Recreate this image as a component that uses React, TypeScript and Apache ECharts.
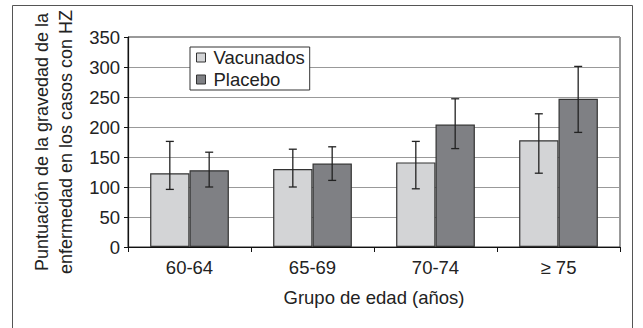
import React, { useEffect, useRef } from "react";
import * as echarts from "echarts";

const categories = ["60-64", "65-69", "70-74", "≥ 75"];
const vacunados = [123, 130, 141, 178];
const vacunadosLow = [96, 100, 97, 123];
const vacunadosHigh = [176, 163, 176, 222];
const placebo = [128, 139, 204, 247];
const placeboLow = [100, 111, 164, 191];
const placeboHigh = [158, 167, 247, 301];
const yTicks = [0, 50, 100, 150, 200, 250, 300, 350];

const FONT = "Liberation Sans, Arial, sans-serif";
const CAT_GAP = 0.36;

function errorSeries(name: string, low: number[], high: number[], side: number) {
  return {
    type: "custom",
    name: name + "-err",
    silent: true,
    z: 10,
    data: categories.map((_, i) => [i, low[i], high[i]]),
    renderItem: (params: any, api: any) => {
      const idx = api.value(0);
      const band = api.size([1, 0])[0];
      const barW = (band * (1 - CAT_GAP)) / 2;
      const lo = api.coord([idx, api.value(1)]);
      const hi = api.coord([idx, api.value(2)]);
      const x = lo[0] + side * barW / 2;
      const cap = 4;
      const style = { stroke: "#222", lineWidth: 1.3 };
      return {
        type: "group",
        children: [
          { type: "line", shape: { x1: x, y1: lo[1], x2: x, y2: hi[1] }, style },
          { type: "line", shape: { x1: x - cap, y1: lo[1], x2: x + cap, y2: lo[1] }, style },
          { type: "line", shape: { x1: x - cap, y1: hi[1], x2: x + cap, y2: hi[1] }, style },
        ],
      };
    },
  };
}

export default function App() {
  const ref = useRef<HTMLDivElement>(null);
  useEffect(() => {
    document.body.style.margin = "0";
    const chart = echarts.init(ref.current!, null, { renderer: "svg" });
    chart.setOption({
      animation: false,
      backgroundColor: "#ffffff",
      textStyle: { fontFamily: FONT },
      graphic: [
        {
          type: "rect",
          shape: { x: 12.5, y: 5.5, width: 620, height: 340 },
          style: { fill: "none", stroke: "#555", lineWidth: 1 },
          silent: true,
        },
      ],
      grid: {
        left: 128,
        right: 23,
        top: 37,
        bottom: 81,
        show: true,
        borderColor: "#333",
        borderWidth: 1,
      },
      legend: {
        orient: "vertical",
        left: 190,
        top: 47,
        data: ["Vacunados", "Placebo"],
        icon: "rect",
        itemWidth: 9,
        itemHeight: 9,
        itemGap: 3,
        padding: [1, 5, 1, 6],
        backgroundColor: "#fff",
        borderColor: "#333",
        borderWidth: 1,
        textStyle: { fontSize: 18.5, color: "#222", fontFamily: FONT, padding: [0, 0, 0, 3] },
        itemStyle: { borderColor: "#333", borderWidth: 1 },
      },
      xAxis: {
        type: "category",
        data: categories,
        name: "Grupo de edad (años)",
        nameLocation: "middle",
        nameGap: 41,
        nameTextStyle: { fontSize: 18.5, color: "#222", fontFamily: FONT },
        axisLine: { lineStyle: { color: "#111", width: 1.2 } },
        axisTick: { show: true, length: 5, lineStyle: { color: "#111" } },
        axisLabel: { fontSize: 18.5, color: "#222", margin: 11, fontFamily: FONT },
      },
      yAxis: {
        type: "value",
        min: yTicks[0],
        max: yTicks[yTicks.length - 1],
        interval: 50,
        name: "Puntuación de la gravedad de la\nenfermedad en los casos con HZ",
        nameLocation: "middle",
        nameRotate: 90,
        nameGap: 48,
        nameTextStyle: { fontSize: 18, color: "#222", fontFamily: FONT, lineHeight: 24 },
        axisLine: { show: true, lineStyle: { color: "#111", width: 1.2 } },
        axisTick: { show: true, length: 4, lineStyle: { color: "#111" } },
        axisLabel: { fontSize: 18.5, color: "#222", margin: 8, fontFamily: FONT },
        splitLine: { lineStyle: { color: "#999", width: 1 } },
      },
      series: [
        {
          name: "Vacunados",
          type: "bar",
          data: vacunados,
          barGap: "0%",
          barCategoryGap: "36%",
          itemStyle: { color: "#d3d4d6", borderColor: "#333", borderWidth: 1.2 },
        },
        {
          name: "Placebo",
          type: "bar",
          data: placebo,
          barGap: "0%",
          barCategoryGap: "36%",
          itemStyle: { color: "#7f8084", borderColor: "#333", borderWidth: 1.2 },
        },
        errorSeries("Vacunados", vacunadosLow, vacunadosHigh, -1),
        errorSeries("Placebo", placeboLow, placeboHigh, 1),
      ],
    });
    return () => chart.dispose();
  }, []);
  return <div ref={ref} style={{ width: 643, height: 328 }} />;
}
